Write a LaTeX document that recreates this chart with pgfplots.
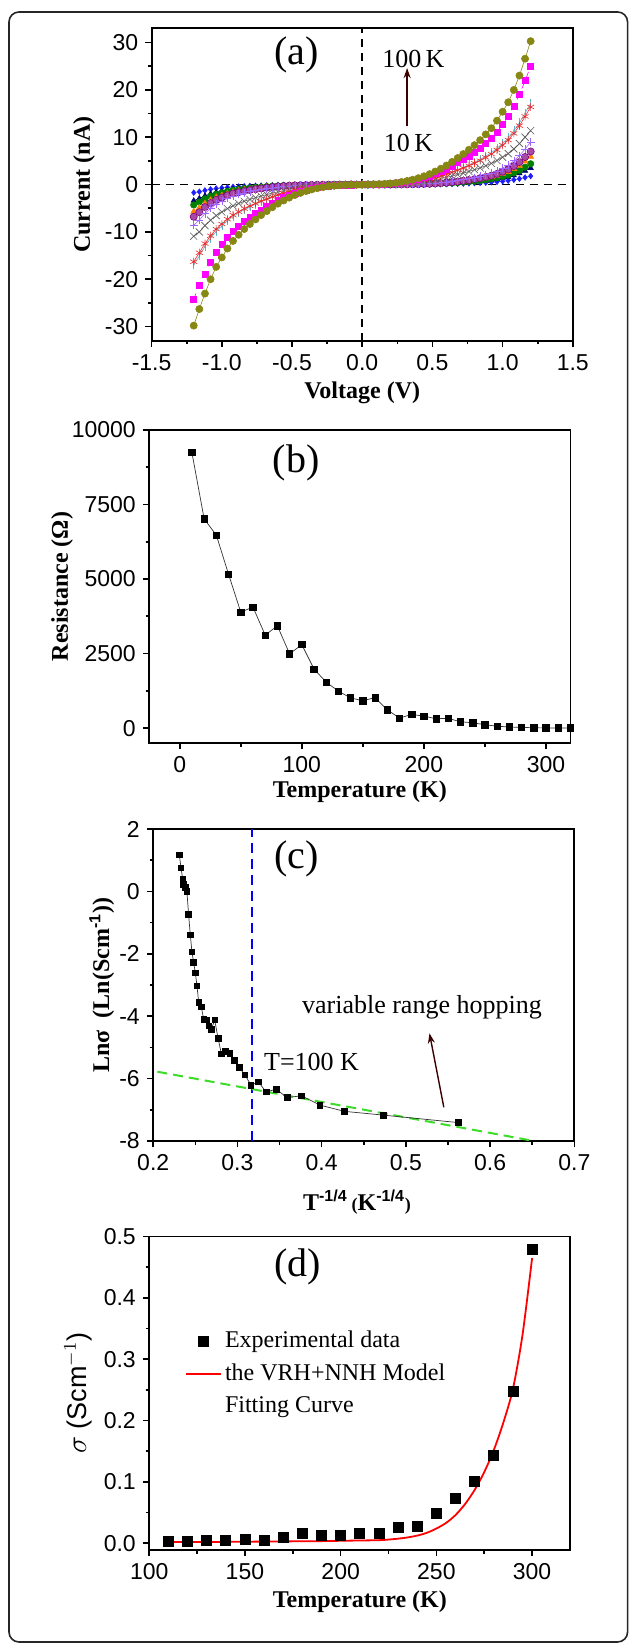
\documentclass[border=0pt]{standalone}
\usepackage{fontspec}
\setmainfont{Liberation Serif}
\setsansfont{Liberation Sans}
\usepackage{pgfplots}
\usepackage{pgfplotstable}
\pgfplotsset{compat=1.18}
\usetikzlibrary{arrows.meta}

\definecolor{olivedot}{RGB}{135,135,20}
\definecolor{magsq}{RGB}{255,0,255}
\definecolor{cyanbar}{RGB}{100,180,205}
\definecolor{redstar}{RGB}{240,40,40}
\definecolor{grayx}{RGB}{90,90,90}
\definecolor{violetp}{RGB}{160,100,255}
\definecolor{purpled}{RGB}{128,0,128}
\definecolor{orangec}{RGB}{255,128,0}
\definecolor{greenc}{RGB}{0,128,0}
\definecolor{navyc}{RGB}{0,0,110}
\definecolor{bluec}{RGB}{30,30,255}
\definecolor{arrowc}{RGB}{60,0,0}
\definecolor{vrhgreen}{RGB}{60,220,40}

% I-V curves, 10 K ... 100 K
\pgfplotstableread{
V ol mg cy rd gy vi pu or gr nv bl
-1.20 -29.80 -24.20 -17.00 -16.30 -10.90 -8.60 -6.80 -5.70 -4.30 -3.40 -1.70
-1.16 -26.30 -21.20 -15.10 -14.40 -10.01 -7.51 -5.84 -4.92 -3.67 -2.92 -1.50
-1.12 -23.03 -19.00 -13.07 -12.46 -8.66 -6.13 -4.77 -4.02 -3.00 -2.38 -1.23
-1.08 -20.00 -16.50 -11.35 -10.82 -7.52 -5.03 -3.91 -3.30 -2.46 -1.96 -1.01
-1.04 -17.39 -14.35 -9.87 -9.41 -6.54 -4.14 -3.22 -2.71 -2.02 -1.61 -0.83
-1.00 -15.39 -12.70 -8.74 -8.33 -5.79 -3.49 -2.72 -2.29 -1.71 -1.36 -0.70
-0.96 -13.51 -11.15 -7.67 -7.31 -5.08 -2.91 -2.26 -1.91 -1.42 -1.13 -0.58
-0.92 -11.91 -9.83 -6.76 -6.45 -4.48 -2.43 -1.89 -1.59 -1.19 -0.95 -0.49
-0.88 -10.61 -8.75 -6.02 -5.74 -3.99 -2.07 -1.61 -1.36 -1.01 -0.81 -0.41
-0.84 -9.39 -7.75 -5.33 -5.08 -3.53 -1.75 -1.36 -1.14 -0.85 -0.68 -0.35
-0.80 -8.33 -6.88 -4.73 -4.51 -3.14 -1.48 -1.15 -0.97 -0.72 -0.57 -0.30
-0.76 -7.36 -6.08 -4.18 -3.99 -2.77 -1.24 -0.97 -0.81 -0.61 -0.48 -0.25
-0.72 -6.45 -5.33 -3.66 -3.49 -2.43 -1.04 -0.81 -0.68 -0.51 -0.40 -0.21
-0.68 -5.61 -4.63 -3.18 -3.03 -2.11 -0.85 -0.66 -0.55 -0.41 -0.33 -0.17
-0.64 -4.79 -3.95 -2.72 -2.59 -1.80 -0.68 -0.53 -0.45 -0.33 -0.27 -0.14
-0.60 -4.03 -3.33 -2.29 -2.18 -1.52 -0.53 -0.41 -0.35 -0.26 -0.21 -0.11
-0.56 -3.36 -2.78 -1.91 -1.82 -1.27 -0.41 -0.32 -0.27 -0.20 -0.16 -0.08
-0.52 -2.76 -2.28 -1.57 -1.49 -1.04 -0.32 -0.25 -0.21 -0.15 -0.12 -0.06
-0.48 -2.21 -1.83 -1.26 -1.20 -0.83 -0.23 -0.18 -0.15 -0.11 -0.09 -0.05
-0.44 -1.76 -1.45 -1.00 -0.95 -0.66 -0.17 -0.13 -0.11 -0.08 -0.07 -0.03
-0.40 -1.36 -1.13 -0.77 -0.74 -0.51 -0.12 -0.09 -0.08 -0.06 -0.05 -0.02
-0.36 -1.03 -0.85 -0.58 -0.56 -0.39 -0.08 -0.06 -0.05 -0.04 -0.03 -0.02
-0.32 -0.76 -0.63 -0.43 -0.41 -0.29 -0.05 -0.04 -0.04 -0.03 -0.02 -0.01
-0.28 -0.55 -0.45 -0.31 -0.30 -0.21 -0.04 -0.03 -0.02 -0.02 -0.01 -0.01
-0.24 -0.36 -0.30 -0.21 -0.20 -0.14 -0.02 -0.01 -0.01 -0.01 -0.01 0
-0.20 -0.24 -0.20 -0.14 -0.13 -0.09 -0.01 -0.01 -0.01 0 0 0
-0.16 -0.15 -0.13 -0.09 -0.08 -0.06 0 0 0 0 0 0
-0.12 -0.09 -0.08 -0.05 -0.05 -0.03 0 0 0 0 0 0
-0.08 -0.06 -0.05 -0.03 -0.03 -0.02 0 0 0 0 0 0
-0.04 -0.03 -0.03 -0.02 -0.02 -0.01 0 0 0 0 0 0
0.00 0 0 0 0 0 0 0 0 0 0 0
0.04 0.03 0.03 0.02 0.02 0.01 0 0 0 0 0 0
0.08 0.06 0.05 0.03 0.03 0.02 0 0 0 0 0 0
0.12 0.09 0.08 0.05 0.05 0.03 0 0 0 0 0 0
0.16 0.15 0.13 0.09 0.08 0.06 0 0 0 0 0 0
0.20 0.24 0.20 0.14 0.13 0.09 0.01 0.01 0.01 0 0 0
0.24 0.36 0.30 0.21 0.20 0.14 0.02 0.01 0.01 0.01 0.01 0
0.28 0.55 0.45 0.31 0.30 0.21 0.04 0.03 0.02 0.02 0.01 0.01
0.32 0.76 0.63 0.43 0.41 0.29 0.05 0.04 0.04 0.03 0.02 0.01
0.36 1.03 0.85 0.58 0.56 0.39 0.08 0.06 0.05 0.04 0.03 0.02
0.40 1.36 1.13 0.77 0.74 0.51 0.12 0.09 0.08 0.06 0.05 0.02
0.44 1.76 1.45 1.00 0.95 0.66 0.17 0.13 0.11 0.08 0.07 0.03
0.48 2.21 1.83 1.26 1.20 0.83 0.23 0.18 0.15 0.11 0.09 0.05
0.52 2.76 2.28 1.57 1.49 1.04 0.32 0.25 0.21 0.15 0.12 0.06
0.56 3.36 2.78 1.91 1.82 1.27 0.41 0.32 0.27 0.20 0.16 0.08
0.60 4.03 3.33 2.29 2.18 1.52 0.53 0.41 0.35 0.26 0.21 0.11
0.64 4.79 3.95 2.72 2.59 1.80 0.68 0.53 0.45 0.33 0.27 0.14
0.68 5.61 4.63 3.18 3.03 2.11 0.85 0.66 0.55 0.41 0.33 0.17
0.72 6.45 5.33 3.66 3.49 2.43 1.04 0.81 0.68 0.51 0.40 0.21
0.76 7.36 6.08 4.18 3.99 2.77 1.24 0.97 0.81 0.61 0.48 0.25
0.80 8.33 6.88 4.73 4.51 3.14 1.48 1.15 0.97 0.72 0.57 0.30
0.84 9.39 7.75 5.33 5.08 3.53 1.75 1.36 1.14 0.85 0.68 0.35
0.88 10.61 8.75 6.02 5.74 3.99 2.07 1.61 1.36 1.01 0.81 0.41
0.92 11.91 9.83 6.76 6.45 4.48 2.43 1.89 1.59 1.19 0.95 0.49
0.96 13.51 11.15 7.67 7.31 5.08 2.91 2.26 1.91 1.42 1.13 0.58
1.00 15.39 12.70 8.74 8.33 5.79 3.49 2.72 2.29 1.71 1.36 0.70
1.04 17.39 14.35 9.87 9.41 6.54 4.14 3.22 2.71 2.02 1.61 0.83
1.08 20.00 16.50 11.35 10.82 7.52 5.03 3.91 3.30 2.46 1.96 1.01
1.12 23.03 19.00 13.07 12.46 8.66 6.13 4.77 4.02 3.00 2.38 1.23
1.16 26.60 21.95 15.10 14.40 10.01 7.51 5.84 4.92 3.67 2.92 1.50
1.20 30.30 25.00 17.20 16.40 11.40 9.00 7.00 5.90 4.40 3.50 1.80
}\ivdata

\pgfplotsset{
  panel/.style={
    scale only axis, width=210.6pt, anchor=south west,
    tick align=outside, xtick pos=left, ytick pos=left,
    minor x tick num=1, minor y tick num=1,
    major tick length=3.2pt, minor tick length=1.8pt,
    every tick/.style={black, line width=0.8pt},
    axis line style={line width=0.9pt},
    tick label style={font=\fontsize{11.5}{12}\selectfont\sffamily},
    /pgf/number format/assume math mode=true,
    label style={font=\fontsize{12}{14}\selectfont\bfseries},
  },
  iv/.style={line width=0.3pt},
}

\begin{document}
\begin{tikzpicture}
\useasboundingbox (0,0) rectangle (314.5pt,822pt);
\draw[line width=0.8pt, rounded corners=5pt, black!85] (4.5pt,1pt) rectangle (313.8pt,816pt);

% ---------- (a) ----------
\begin{axis}[panel, at={(75.8pt,651.6pt)}, height=156.2pt,
  xmin=-1.5, xmax=1.5, ymin=-33, ymax=33,
  xtick={-1.5,-1,...,1.5}, ytick={-30,-20,...,30},
  xticklabel style={/pgf/number format/.cd, fixed, fixed zerofill, precision=1},
  xlabel={Voltage (V)}, ylabel={Current (nA)},
  xlabel style={at={(axis description cs:0.5,-0.168)}, anchor=center},
  ylabel style={at={(axis description cs:-0.16,0.5)}, anchor=center},
]
\addplot[iv, bluec, mark=diamond*, mark size=1.4pt] table[x=V,y=bl] {\ivdata};
\addplot[iv, navyc, mark=triangle*, mark size=1.5pt] table[x=V,y=nv] {\ivdata};
\addplot[iv, greenc, mark=*, mark size=1.6pt] table[x=V,y=gr] {\ivdata};
\addplot[iv, orangec, mark=triangle*, mark size=1.7pt] table[x=V,y=or] {\ivdata};
\addplot[iv, purpled, mark=*, mark size=1.8pt, mark options={fill=purpled!70}] table[x=V,y=pu] {\ivdata};
\addplot[iv, violetp, mark=+, mark size=2pt] table[x=V,y=vi] {\ivdata};
\addplot[iv, grayx, mark=x, mark size=2.5pt] table[x=V,y=gy] {\ivdata};
\addplot[iv, cyanbar, mark=|, mark size=2.2pt] table[x=V,y=cy] {\ivdata};
\addplot[iv, redstar, mark=asterisk, mark size=2pt] table[x=V,y=rd] {\ivdata};
\addplot[iv, magsq, dashed, mark=square*, mark size=1.5pt, mark options={solid}] table[x=V,y=mg] {\ivdata};
\addplot[iv, olivedot, mark=*, mark size=1.8pt] table[x=V,y=ol] {\ivdata};
\addplot[black, line width=0.9pt, dash pattern=on 4pt off 3pt] coordinates {(-1.5,0) (1.5,0)};
\addplot[black, line width=0.9pt, dash pattern=on 4pt off 3pt] coordinates {(0,-33) (0,33)};
\node[font=\fontsize{20}{20}\selectfont] at (axis cs:-0.47,27.3) {(a)};
\node[font=\fontsize{13}{13}\selectfont] at (axis cs:0.365,26.6) {100\,K};
\node[font=\fontsize{13}{13}\selectfont] at (axis cs:0.33,8.7) {10\,K};
\draw[arrowc, line width=0.7pt, -{Stealth[length=5pt,width=3.5pt]}] (axis cs:0.32,12.4) -- (axis cs:0.32,24.6);
\end{axis}

% ---------- (b) ----------
\begin{axis}[panel, at={(74.6pt,450.5pt)}, height=156.5pt,
  xmin=-25, xmax=320, ymin=-500, ymax=10000,
  xtick={0,100,200,300}, ytick={0,2500,5000,7500,10000},
  scaled y ticks=false,
  yticklabel style={/pgf/number format/1000 sep={}},
  xlabel={Temperature (K)}, ylabel={Resistance (Ω)},
  xlabel style={at={(axis description cs:0.5,-0.157)}, anchor=center},
  ylabel style={at={(axis description cs:-0.207,0.5)}, anchor=center},
]
\addplot[black!80, line width=0.35pt, mark=square*, mark size=1.6pt, mark options={black}] coordinates {
(10,9240) (20,7020) (30,6470) (40,5160) (50,3890) (60,4060) (70,3120) (80,3430)
(90,2490) (100,2800) (110,1980) (120,1540) (130,1240) (140,1010) (150,920) (160,1020)
(170,615) (180,335) (190,460) (200,400) (210,315) (220,325) (230,210) (240,180)
(250,110) (260,65) (270,35) (280,25) (290,10) (300,5) (310,3) (320,2)
};
\node[font=\fontsize{20}{20}\selectfont] at (axis cs:95.5,8880) {(b)};
\end{axis}

% ---------- (c) ----------
\begin{axis}[panel, at={(76.6pt,251.5pt)}, height=156pt,
  xmin=0.2, xmax=0.7, ymin=-8, ymax=2,
  xtick={0.2,0.3,...,0.7}, ytick={-8,-6,...,2},
  xticklabel style={/pgf/number format/.cd, fixed, fixed zerofill, precision=1},
  xlabel={T\textsuperscript{\sffamily -1/4}\,{\small(}K\textsuperscript{\sffamily -1/4}{\small)}},
  ylabel={Lnσ\ \ (Ln(Scm\textsuperscript{\sffamily -1}))},
  xlabel style={at={(axis description cs:0.484,-0.196)}, anchor=center},
  ylabel style={at={(axis description cs:-0.122,0.5)}, anchor=center},
]
\addplot[blue, line width=1pt, dash pattern=on 5pt off 3pt] coordinates {(0.317,-8) (0.317,2)};
\addplot[vrhgreen, line width=1pt, dash pattern=on 5pt off 3pt] coordinates {(0.205,-5.78) (0.652,-8.0)};
\addplot[black!80, line width=0.35pt, mark=square*, mark size=1.4pt, mark options={black}] coordinates {
(0.231,1.17) (0.233,0.76) (0.235,0.40) (0.236,0.22) (0.238,0.12) (0.240,0.00)
(0.242,-0.73) (0.244,-1.39) (0.246,-1.94) (0.248,-2.28) (0.250,-2.61) (0.252,-3.03)
(0.254,-3.56) (0.257,-3.70) (0.260,-4.10) (0.263,-4.12) (0.266,-4.31) (0.269,-4.42)
(0.273,-4.12) (0.277,-4.71) (0.281,-5.21) (0.286,-5.13) (0.291,-5.19) (0.296,-5.41)
(0.302,-5.64) (0.309,-5.88) (0.316,-6.21) (0.325,-6.11) (0.334,-6.43) (0.346,-6.34)
(0.359,-6.61) (0.376,-6.55) (0.398,-6.85) (0.427,-7.05) (0.473,-7.17) (0.562,-7.41)
};
\node[font=\fontsize{20}{20}\selectfont] at (axis cs:0.37,1.05) {(c)};
\node[font=\fontsize{13}{13}\selectfont] at (axis cs:0.519,-3.72) {variable range hopping};
\node[font=\fontsize{13}{13}\selectfont] at (axis cs:0.388,-5.46) {T=100 K};
\draw[arrowc, line width=0.7pt, -{Stealth[length=5pt,width=3.5pt]}] (axis cs:0.545,-6.92) -- (axis cs:0.528,-4.55);
\end{axis}

% ---------- (d) ----------
\begin{axis}[panel, at={(74.6pt,47pt)}, height=156.7pt,
  xmin=100, xmax=320, ymin=-0.011, ymax=0.5,
  xtick={100,150,...,300}, ytick={0,0.1,...,0.5},
  yticklabel style={/pgf/number format/.cd, fixed, fixed zerofill, precision=1},
  xlabel={Temperature (K)},
  ylabel={$\sigma$ (Scm$^{-1}$)},
  xlabel style={at={(axis description cs:0.5,-0.166)}, anchor=center},
  ylabel style={at={(axis description cs:-0.169,0.5)}, anchor=center, font=\fontsize{13.5}{14}\selectfont\sffamily},
  legend style={draw=none, fill=none, at={(axis description cs:0.07,0.725)}, anchor=north west,
    font=\fontsize{12}{13}\selectfont, row sep=2.5pt},
  legend cell align=left,
]
\addplot[only marks, mark=square*, mark size=2.5pt, black] coordinates {
(110,0.003) (120,0.003) (130,0.004) (140,0.005) (150,0.0065) (160,0.005) (170,0.009)
(180,0.016) (190,0.012) (200,0.0125) (210,0.016) (220,0.016) (230,0.026) (240,0.028)
(250,0.048) (260,0.073) (270,0.101) (280,0.143) (290,0.247) (300,0.479)
};
\addlegendentry{Experimental data}
\addplot[red, line width=0.9pt, smooth] coordinates {
(110,0.002) (130,0.002) (150,0.0025) (170,0.003) (190,0.0035) (200,0.004) (210,0.0045)
(220,0.005) (225,0.006) (230,0.0075) (235,0.0095) (240,0.0125) (245,0.017) (250,0.024)
(255,0.033) (260,0.046) (265,0.064) (270,0.087) (275,0.116) (280,0.152) (285,0.197)
(290,0.252) (295,0.34) (300,0.465)
};
\addlegendentry{the VRH+NNH Model}
\addlegendimage{empty legend}
\addlegendentry{Fitting Curve}
\node[font=\fontsize{20}{20}\selectfont] at (axis cs:177.5,0.45) {(d)};
\end{axis}
\end{tikzpicture}
\end{document}
